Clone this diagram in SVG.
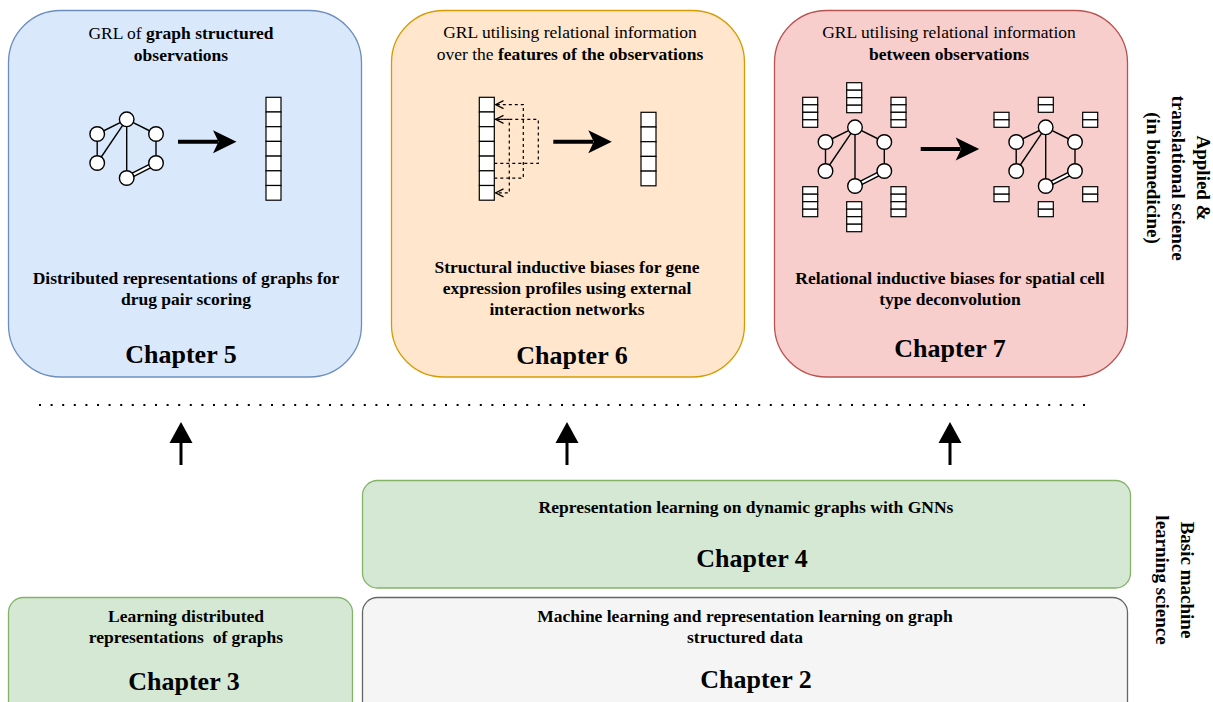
<svg xmlns="http://www.w3.org/2000/svg" width="1213" height="702" viewBox="0 0 1213 702">
  <style>
    text { font-family: "Liberation Serif", "Times New Roman", serif; fill: #000; }
    .t { font-size: 17.5px; text-anchor: middle; }
    .b { font-weight: bold; }
    .ch { font-size: 26px; font-weight: bold; text-anchor: middle; }
    .side { font-size: 19px; font-weight: bold; text-anchor: middle; }
    .ln { stroke: #000; stroke-width: 1.4; fill: none; }
    .nd { fill: #fff; stroke: #000; stroke-width: 1.4; }
    .cell { fill: #fff; stroke: #000; stroke-width: 1.2; }
    .dash { stroke: #000; stroke-width: 1.2; fill: none; stroke-dasharray: 3 3; }
  </style>
  <defs>
    <!-- small six-node graph, origin at the top node -->
    <g id="graph">
      <line class="ln" x1="0" y1="0" x2="-29.5" y2="14.7"/>
      <line class="ln" x1="0" y1="0" x2="29.3" y2="14.7"/>
      <line class="ln" x1="0" y1="0" x2="-29.5" y2="43.7"/>
      <line class="ln" x1="0" y1="0" x2="0" y2="58.7"/>
      <line class="ln" x1="-29.5" y1="14.7" x2="-29.5" y2="43.7"/>
      <line class="ln" x1="29.3" y1="14.7" x2="29.3" y2="43.7"/>
      <line x1="0" y1="58.7" x2="29.3" y2="43.7" stroke="#000" stroke-width="5"/>
      <line x1="0" y1="58.7" x2="29.3" y2="43.7" stroke="#fff" stroke-width="2.2"/>
      <circle class="nd" cx="0" cy="0" r="7.3"/>
      <circle class="nd" cx="-29.5" cy="14.7" r="7.3"/>
      <circle class="nd" cx="29.3" cy="14.7" r="7.3"/>
      <circle class="nd" cx="-29.5" cy="43.7" r="7.3"/>
      <circle class="nd" cx="29.3" cy="43.7" r="7.3"/>
      <circle class="nd" cx="0" cy="58.7" r="7.3"/>
    </g>
    <!-- feature vectors -->
    <g id="vec4">
      <rect class="cell" x="0" y="0" width="15" height="7.5"/>
      <rect class="cell" x="0" y="7.5" width="15" height="7.5"/>
      <rect class="cell" x="0" y="15" width="15" height="7.5"/>
      <rect class="cell" x="0" y="22.5" width="15" height="7.5"/>
    </g>
    <g id="vec2">
      <rect class="cell" x="0" y="0" width="15" height="7.5"/>
      <rect class="cell" x="0" y="7.5" width="15" height="7.5"/>
    </g>
    <!-- thick horizontal arrow, origin at the tail -->
    <g id="bigarrow">
      <line x1="0" y1="0" x2="40" y2="0" stroke="#000" stroke-width="4"/>
      <path d="M58.5,0 L35,-11.5 L40.5,0 L35,11.5 Z" fill="#000"/>
    </g>
    <marker id="open" viewBox="0 0 10 10" refX="9" refY="5" markerWidth="10" markerHeight="10" markerUnits="userSpaceOnUse" orient="auto">
      <path d="M1,1 L9,5 L1,9" fill="none" stroke="#000" stroke-width="1.2"/>
    </marker>
    <g id="uparrow">
      <line x1="0" y1="465" x2="0" y2="440" stroke="#000" stroke-width="3"/>
      <path d="M0,422 L-11.5,443 L11.5,443 Z" fill="#000"/>
    </g>
  </defs>

  <!-- Chapter 5 -->
  <g id="chapter5">
    <rect x="8.5" y="10.5" width="353" height="366.5" rx="52" ry="52" fill="#dae8fc" stroke="#6c8ebf" stroke-width="1.3"/>
    <text class="t" x="181" y="39">GRL of <tspan class="b">graph structured</tspan></text>
    <text class="t b" x="181" y="61">observations</text>
    <use href="#graph" x="126.7" y="119.3"/>
    <use href="#bigarrow" x="178" y="141.7"/>
    <g>
      <rect class="cell" x="266" y="97.3" width="15" height="14.7"/>
      <rect class="cell" x="266" y="112" width="15" height="14.7"/>
      <rect class="cell" x="266" y="126.7" width="15" height="14.7"/>
      <rect class="cell" x="266" y="141.4" width="15" height="14.7"/>
      <rect class="cell" x="266" y="156.1" width="15" height="14.7"/>
      <rect class="cell" x="266" y="170.8" width="15" height="14.7"/>
      <rect class="cell" x="266" y="185.5" width="15" height="14.7"/>
    </g>
    <text class="t b" x="186" y="284">Distributed representations of graphs for</text>
    <text class="t b" x="186" y="305">drug pair scoring</text>
    <text class="ch" x="181" y="363">Chapter 5</text>
  </g>

  <!-- Chapter 6 -->
  <g id="chapter6">
    <rect x="391.5" y="10.5" width="353" height="366.5" rx="52" ry="52" fill="#ffe6cc" stroke="#d79b00" stroke-width="1.3"/>
    <text class="t" x="570" y="38">GRL utilising relational information</text>
    <text class="t" x="570" y="60">over the <tspan class="b">features of the observations</tspan></text>
    <g>
      <rect class="cell" x="479.3" y="97.3" width="15" height="14.7"/>
      <rect class="cell" x="479.3" y="112" width="15" height="14.7"/>
      <rect class="cell" x="479.3" y="126.7" width="15" height="14.7"/>
      <rect class="cell" x="479.3" y="141.4" width="15" height="14.7"/>
      <rect class="cell" x="479.3" y="156.1" width="15" height="14.7"/>
      <rect class="cell" x="479.3" y="170.8" width="15" height="14.7"/>
      <rect class="cell" x="479.3" y="185.5" width="15" height="14.7"/>
    </g>
    <path class="dash" d="M494.3,163.4 H538.3 V119.4 H495.5" marker-end="url(#open)"/>
    <path class="dash" d="M494.3,178.1 H523.3 V104.6 H495.5" marker-end="url(#open)"/>
    <path class="dash" d="M494.3,119.4 H509.3 V192.9 H495.5" marker-end="url(#open)"/>
    <use href="#bigarrow" x="553.3" y="141.7"/>
    <g>
      <rect class="cell" x="641" y="112.3" width="15" height="14.7"/>
      <rect class="cell" x="641" y="127" width="15" height="14.7"/>
      <rect class="cell" x="641" y="141.7" width="15" height="14.7"/>
      <rect class="cell" x="641" y="156.4" width="15" height="14.7"/>
      <rect class="cell" x="641" y="171.1" width="15" height="14.7"/>
    </g>
    <text class="t b" x="567" y="273">Structural inductive biases for gene</text>
    <text class="t b" x="567" y="294">expression profiles using external</text>
    <text class="t b" x="567" y="315">interaction networks</text>
    <text class="ch" x="572" y="364">Chapter 6</text>
  </g>

  <!-- Chapter 7 -->
  <g id="chapter7">
    <rect x="774.5" y="10.5" width="353" height="366.5" rx="52" ry="52" fill="#f8cecc" stroke="#b85450" stroke-width="1.3"/>
    <text class="t" x="949" y="38">GRL utilising relational information</text>
    <text class="t b" x="949" y="60">between observations</text>
    <use href="#graph" x="855" y="127.3"/>
    <use href="#vec4" x="846.7" y="82.7"/>
    <use href="#vec4" x="802.7" y="97.3"/>
    <use href="#vec4" x="891" y="97.3"/>
    <use href="#vec4" x="802.7" y="186.7"/>
    <use href="#vec4" x="891" y="186.7"/>
    <use href="#vec4" x="846.7" y="201.7"/>
    <use href="#bigarrow" x="920.7" y="149"/>
    <use href="#graph" x="1045.7" y="127.3"/>
    <use href="#vec2" x="1038.3" y="97.3"/>
    <use href="#vec2" x="994" y="112.3"/>
    <use href="#vec2" x="1082.7" y="112.3"/>
    <use href="#vec2" x="994" y="186.7"/>
    <use href="#vec2" x="1082.7" y="186.7"/>
    <use href="#vec2" x="1038.3" y="201.7"/>
    <text class="t b" x="950" y="284">Relational inductive biases for spatial cell</text>
    <text class="t b" x="950" y="305">type deconvolution</text>
    <text class="ch" x="950" y="357">Chapter 7</text>
  </g>

  <!-- level labels -->
  <g id="label-applied">
    <g transform="translate(1197,178) rotate(90)">
      <text class="side" x="0" y="0">Applied &amp;</text>
      <text class="side" x="0" y="25">translational science</text>
      <text class="side" x="0" y="50">(in biomedicine)</text>
    </g>
  </g>
  <g id="label-basic">
    <g transform="translate(1181,580) rotate(90)">
      <text class="side" x="0" y="0">Basic machine</text>
      <text class="side" x="0" y="25">learning science</text>
    </g>
  </g>

  <!-- separator between the two levels -->
  <line x1="39" y1="405" x2="1092" y2="405" stroke="#000" stroke-width="2" stroke-dasharray="2 9.6"/>

  <!-- connectors -->
  <g id="connectors">
    <use href="#uparrow" x="181"/>
    <use href="#uparrow" x="567"/>
    <use href="#uparrow" x="950"/>
  </g>

  <!-- Chapter 4 -->
  <g id="chapter4">
    <rect x="362.5" y="480.5" width="768" height="107.5" rx="15" ry="15" fill="#d5e8d4" stroke="#82b366" stroke-width="1.3"/>
    <text class="t b" x="746" y="513">Representation learning on dynamic graphs with GNNs</text>
    <text class="ch" x="752" y="567">Chapter 4</text>
  </g>

  <!-- Chapter 3 -->
  <g id="chapter3">
    <rect x="8.5" y="597.5" width="344" height="125" rx="15" ry="15" fill="#d5e8d4" stroke="#82b366" stroke-width="1.3"/>
    <text class="t b" x="186" y="622">Learning distributed</text>
    <text class="t b" x="186" y="643">representations&#160; of graphs</text>
    <text class="ch" x="184" y="690">Chapter 3</text>
  </g>

  <!-- Chapter 2 -->
  <g id="chapter2">
    <rect x="362.5" y="597.5" width="765" height="125" rx="15" ry="15" fill="#f5f5f5" stroke="#666666" stroke-width="1.3"/>
    <text class="t b" x="745" y="622">Machine learning and representation learning on graph</text>
    <text class="t b" x="745" y="643">structured data</text>
    <text class="ch" x="756" y="688">Chapter 2</text>
  </g>
</svg>
